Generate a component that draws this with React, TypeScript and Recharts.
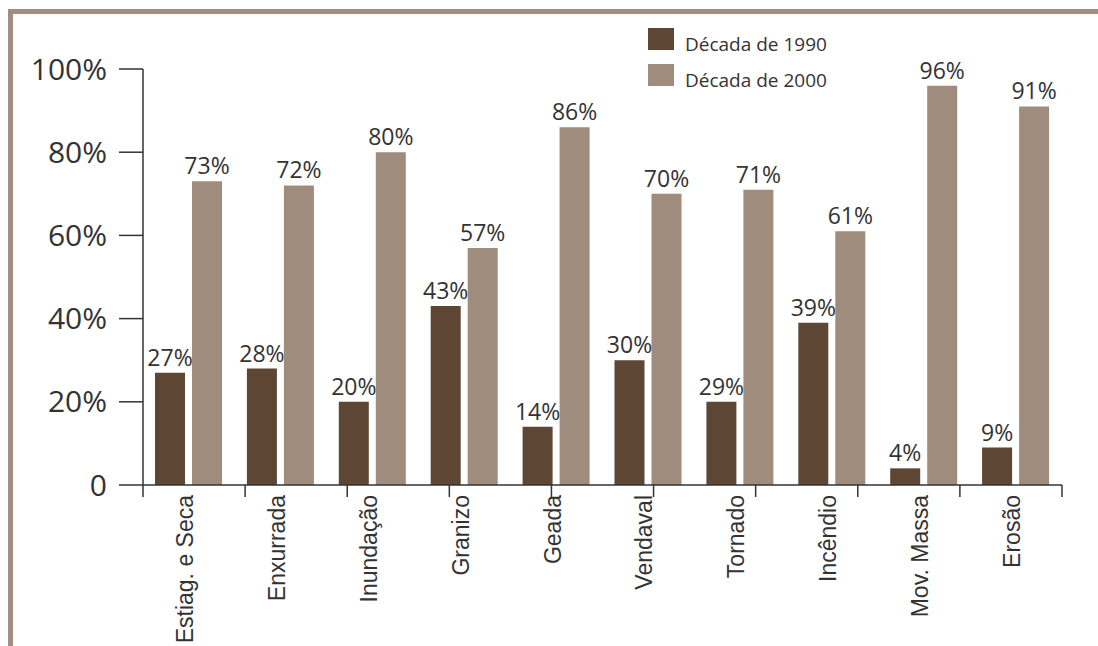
import React from "react";
import { BarChart, Bar, XAxis, YAxis, LabelList, Legend } from "recharts";

const categories = [
  "Estiag. e Seca",
  "Enxurrada",
  "Inundação",
  "Granizo",
  "Geada",
  "Vendaval",
  "Tornado",
  "Incêndio",
  "Mov. Massa",
  "Erosão",
];
const values1990 = [27, 28, 20, 43, 14, 30, 20, 39, 4, 9];
const labels1990 = ["27%", "28%", "20%", "43%", "14%", "30%", "29%", "39%", "4%", "9%"];
const values2000 = [73, 72, 80, 57, 86, 70, 71, 61, 96, 91];
const labels2000 = ["73%", "72%", "80%", "57%", "86%", "70%", "71%", "61%", "96%", "91%"];
const yTicks = [0, 20, 40, 60, 80, 100];
const boundaryTicks = [0, 1, 2, 3, 4, 5, 6, 7, 8, 9, 10];
const seriesNames = ["Década de 1990", "Década de 2000"];

const data = categories.map((c, i) => ({
  cat: c,
  v1990: values1990[i],
  l1990: labels1990[i],
  v2000: values2000[i],
  l2000: labels2000[i],
}));

const DARK = "#5d4634";
const LIGHT = "#a08c7c";
const FRAME = "#a08e80";
const TEXT = "#333333";

const CatTick = (props: any) => {
  const { x, y, payload } = props;
  const bx = x + 4;
  const by = y + 9;
  return (
    <text
      x={bx}
      y={by}
      transform={`rotate(-90, ${bx}, ${by})`}
      textAnchor="end"
      fontFamily="Liberation Sans, Arial, sans-serif"
      fontSize={23}
      fill={TEXT}
    >
      {payload.value}
    </text>
  );
};

const LegendContent = (props: any) => {
  const { payload } = props;
  return (
    <div style={{ fontFamily: "Open Sans, sans-serif" }}>
      {(payload || []).map((p: any, i: number) => (
        <div key={i} style={{ display: "flex", alignItems: "flex-end", height: 22, marginBottom: 14 }}>
          <div style={{ width: 26, height: 22, background: p.color }} />
          <span style={{ marginLeft: 11, fontSize: 19, color: TEXT, lineHeight: "19px", position: "relative", top: 4 }}>
            {p.value}
          </span>
        </div>
      ))}
    </div>
  );
};

export default function App() {
  return (
    <div style={{ position: "absolute", left: 0, top: 0, width: 1098, height: 646, background: "#fff" }}>
      <div
        style={{
          position: "absolute",
          left: 8,
          top: 9,
          width: 1090,
          height: 637,
          borderTop: `5px solid ${FRAME}`,
          borderLeft: `5px solid ${FRAME}`,
          boxSizing: "border-box",
        }}
      />
      <div style={{ position: "absolute", left: 0, top: 0 }}>
        <BarChart
          width={1098}
          height={646}
          data={data}
          margin={{ top: 69, right: 36, bottom: 0, left: 0 }}
          barSize={30}
          barGap={7}
        >
          <XAxis
            xAxisId="b_cat"
            dataKey="cat"
            type="category"
            height={160}
            axisLine={false}
            tickLine={false}
            tickSize={0}
            tickMargin={0}
            interval={0}
            tick={<CatTick />}
          />
          <XAxis
            xAxisId="a_grid"
            type="number"
            domain={[0, 10]}
            ticks={boundaryTicks}
            allowDataOverflow
            height={1}
            tickSize={12}
            axisLine={{ stroke: TEXT, strokeWidth: 1.5 }}
            tickLine={{ stroke: TEXT, strokeWidth: 1.5 }}
            tick={() => <g />}
          />
          <YAxis
            type="number"
            domain={[0, 100]}
            ticks={yTicks}
            width={143}
            tickSize={24}
            tickMargin={12}
            axisLine={{ stroke: TEXT, strokeWidth: 1.5 }}
            tickLine={{ stroke: TEXT, strokeWidth: 1.5 }}
            tick={{ fontSize: 30, fill: TEXT, fontFamily: "Open Sans, sans-serif" }}
            tickFormatter={(v: number) => (v === 0 ? "0" : `${v}%`)}
          />
          <Legend
            verticalAlign="middle"
            align="center"
            layout="vertical"
            content={<LegendContent />}
            wrapperStyle={{ position: "absolute", left: 648, top: 28, width: 220 }}
          />
          <Bar xAxisId="b_cat" dataKey="v1990" name={seriesNames[0]} fill={DARK} isAnimationActive={false}>
            <LabelList
              dataKey="l1990"
              position="top"
              offset={7}
              fill={TEXT}
              fontSize={23}
              fontFamily="Open Sans, sans-serif"
            />
          </Bar>
          <Bar xAxisId="b_cat" dataKey="v2000" name={seriesNames[1]} fill={LIGHT} isAnimationActive={false}>
            <LabelList
              dataKey="l2000"
              position="top"
              offset={7}
              fill={TEXT}
              fontSize={23}
              fontFamily="Open Sans, sans-serif"
            />
          </Bar>
        </BarChart>
      </div>
    </div>
  );
}
